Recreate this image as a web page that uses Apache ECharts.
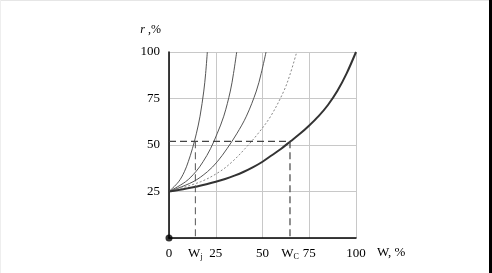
<!DOCTYPE html>
<html>
<head>
<meta charset="utf-8">
<script src="https://cdn.jsdelivr.net/npm/echarts@6/dist/echarts.min.js"></script>
<style>
html,body{margin:0;padding:0;background:#fff;}
#c{width:492px;height:273px;}
</style>
</head>
<body>
<div id="c"></div>
<script>
// r levels (%) shared by the thin curves
const rLevels = [25, 30.2, 35.6, 41, 48, 56, 65.5, 79, 88.5, 100];
// W (%) at which each thin curve reaches those r levels
const wJ  = [0, 5.1, 8.2, 10.3, 12.5, 14.6, 16.6, 18.6, 19.6, 20.5];
const w2  = [0, 8.8, 14.3, 18.2, 22.2, 25.7, 29.3, 32.8, 34.5, 36.2];
const w3  = [0, 12.8, 20.5, 25.8, 31.0, 36.2, 41.4, 46.7, 49.3, 51.9];
const w4  = [0, 16.8, 27.0, 33.8, 40.6, 47.5, 54.4, 61.4, 64.9, 68.3];
// r_C curve
const wC  = [0, 5, 10, 15, 20, 25, 30, 35, 40, 45, 50, 55, 60, 65, 70, 75, 80, 85, 90, 95, 100];
const rC  = [25, 25.8, 26.7, 27.7, 28.9, 30.2, 31.7, 33.5, 35.6, 38.1, 41, 44.5, 48, 52, 56, 60.5, 65.5, 71.5, 79, 88.5, 100];
// reference points
const Wj = 14.1, Wc = 64.7, rRef = 52;
const xTicks = [0, Wj, 25, 50, Wc, 75, 100];
const yTicks = [25, 50, 75, 100];

function pairs(ws, rs){ return ws.map((w,i)=>[w, rs[i]]); }

const serif = "'Liberation Serif','Times New Roman',serif";
const chart = echarts.init(document.getElementById('c'), null, {renderer:'canvas'});
const thin = (data, type, color) => ({
  type:'line', data, smooth:0.35, symbol:'none', silent:true,
  lineStyle:{width:1, color, type}
});
chart.setOption({
  animation:false,
  backgroundColor:'#fff',
  textStyle:{fontFamily:serif},
  grid:{left:169, right:136, top:52, bottom:35},
  xAxis:{
    type:'value', min:0, max:100, interval:25,
    axisLine:{lineStyle:{color:'#000', width:1.5}},
    axisTick:{show:false},
    splitLine:{lineStyle:{color:'#c8c8c8', width:1}},
    axisLabel:{
      customValues:xTicks, margin:9, color:'#000',
      fontFamily:serif, fontSize:13,
      formatter:v => v===Wj ? '{w|W}{s|j}' : (v===Wc ? '{w|W}{s|C}' : String(v)),
      rich:{w:{fontFamily:serif,fontSize:13,color:'#000'},
            s:{fontFamily:serif,fontSize:8,color:'#000',verticalAlign:'bottom',padding:[6,0,0,0]}}
    },
    name:'W, %', nameLocation:'end', nameGap:21,
    nameTextStyle:{fontFamily:serif, fontSize:13, color:'#000', verticalAlign:'top', padding:[8,0,0,0]}
  },
  yAxis:{
    type:'value', min:0, max:100, interval:25,
    axisLine:{show:true, lineStyle:{color:'#000', width:1.5}},
    axisTick:{show:false},
    splitLine:{lineStyle:{color:'#c8c8c8', width:1}},
    axisLabel:{color:'#000', fontFamily:serif, fontSize:13, margin:9,
      formatter:v => v===0 ? '' : String(v)},
    name:'{i|r} ,%', nameLocation:'end', nameGap:16,
    nameTextStyle:{fontFamily:serif, fontSize:12, color:'#000', align:'right', padding:[0,8,0,0],
      rich:{i:{fontFamily:serif, fontStyle:'italic', fontSize:12, color:'#000'}}}
  },
  series:[
    thin(pairs(wJ, rLevels), 'solid', '#555'),
    thin(pairs(w2, rLevels), 'solid', '#555'),
    thin(pairs(w3, rLevels), 'solid', '#555'),
    thin(pairs(w4, rLevels), [2,2], '#888'),
    {type:'line', data:pairs(wC, rC), smooth:0.3, symbol:'none', silent:true,
     lineStyle:{width:2, color:'#333'},
     markPoint:{symbol:'none', silent:true,
       data:[
         {coord:[13, 81], value:'j', label:{show:true, formatter:'{i|r}{s|j}', color:'#000',
           rich:{i:{fontFamily:serif,fontStyle:'italic',fontSize:12,color:'#000'},
                 s:{fontFamily:serif,fontSize:7,color:'#000',verticalAlign:'bottom',padding:[6,0,0,0]}}}},
         {coord:[85, 64], value:'c', label:{show:true, formatter:'{i|r}{s|C}', color:'#000',
           rich:{i:{fontFamily:serif,fontStyle:'italic',fontSize:12,color:'#000'},
                 s:{fontFamily:serif,fontSize:7,color:'#000',verticalAlign:'bottom',padding:[5,0,0,0]}}}}
       ]}},
    {type:'line', data:[[0,rRef],[Wc,rRef],[Wc,0]], symbol:'none', silent:true,
     lineStyle:{width:1.2, color:'#444', type:[7,4]}},
    {type:'line', data:[[Wj,rRef],[Wj,0]], symbol:'none', silent:true,
     lineStyle:{width:1, color:'#555', type:[7,4]}},
    {type:'scatter', data:[[0,0]], symbolSize:7, clip:false, silent:true,
     itemStyle:{color:'#000'}, z:10}
  ],
  graphic:[
    {type:'rect', shape:{x:489, y:0, width:3, height:273}, style:{fill:'#000'}, z:100},
    {type:'rect', shape:{x:0, y:0, width:489, height:1}, style:{fill:'#e6e6e6'}, z:100},
    {type:'rect', shape:{x:0, y:0, width:1, height:273}, style:{fill:'#eeeeee'}, z:100}
  ]
});
</script>
</body>
</html>
